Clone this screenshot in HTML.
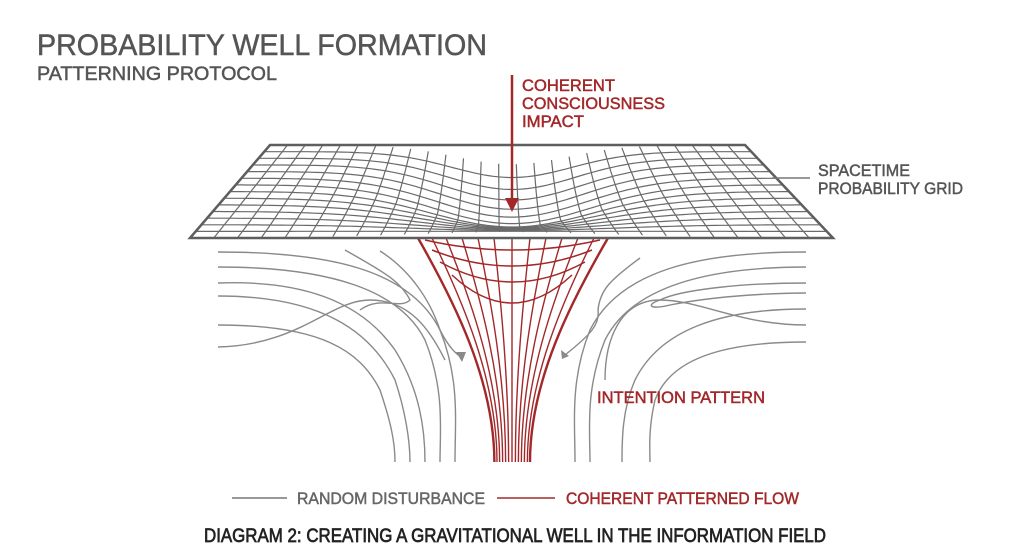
<!DOCTYPE html>
<html><head><meta charset="utf-8"><style>
html,body{margin:0;padding:0;background:#fff;width:1024px;height:558px;overflow:hidden}
svg{display:block}
text{font-family:"Liberation Sans Narrow","Liberation Sans",sans-serif}
</style></head><body>
<svg id="s" width="1024" height="558" viewBox="0 0 1024 558" xmlns="http://www.w3.org/2000/svg">
<rect width="1024" height="558" fill="#fff"/>
<g id="flow" fill="none" stroke="#8a8a8a" stroke-width="1.4"></g>
<g id="red" fill="none" stroke="#a3282a" stroke-width="1.5"></g>
<g id="grid" fill="none" stroke="#6a6a6a" stroke-width="1.2"></g>
<polygon points="270,145 745,145 833,238 190,238" fill="none" stroke="#5e5e5e" stroke-width="2.5"/>
<line x1="512" y1="75" x2="512" y2="200" stroke="#a3282a" stroke-width="2.5"/>
<polygon points="505,198 519,198 512,212" fill="#a3282a"/>
<g stroke-width="0.5">
<text x="37" y="55" font-size="30" fill="#555" stroke="#555" textLength="450" lengthAdjust="spacingAndGlyphs">PROBABILITY WELL FORMATION</text>
<text x="37" y="80" font-size="19" fill="#555" stroke="#555" textLength="240" lengthAdjust="spacingAndGlyphs">PATTERNING PROTOCOL</text>
<text font-size="17" fill="#a3282a" stroke="#a3282a"><tspan x="522" y="91" textLength="93" lengthAdjust="spacingAndGlyphs">COHERENT</tspan><tspan x="522" y="109" textLength="143" lengthAdjust="spacingAndGlyphs">CONSCIOUSNESS</tspan><tspan x="522" y="127" textLength="62" lengthAdjust="spacingAndGlyphs">IMPACT</tspan></text>
<text font-size="17" fill="#555" stroke="#555"><tspan x="818" y="176" textLength="92" lengthAdjust="spacingAndGlyphs">SPACETIME</tspan><tspan x="818" y="194" textLength="145" lengthAdjust="spacingAndGlyphs">PROBABILITY GRID</tspan></text>
<text x="597" y="403" font-size="17" fill="#a3282a" stroke="#a3282a" textLength="168" lengthAdjust="spacingAndGlyphs">INTENTION PATTERN</text>
<text x="297" y="504" font-size="17" fill="#666" stroke="#666" textLength="188" lengthAdjust="spacingAndGlyphs">RANDOM DISTURBANCE</text>
<text x="566" y="504" font-size="17" fill="#a3282a" stroke="#a3282a" textLength="233" lengthAdjust="spacingAndGlyphs">COHERENT PATTERNED FLOW</text>
<text x="204" y="542" font-size="19" fill="#222" stroke="#222" stroke-width="0.7" textLength="622" lengthAdjust="spacingAndGlyphs">DIAGRAM 2: CREATING A GRAVITATIONAL WELL IN THE INFORMATION FIELD</text>
</g>
<line x1="772" y1="178" x2="810" y2="178" stroke="#777" stroke-width="1.4"/>
<line x1="232" y1="498" x2="287" y2="498" stroke="#777" stroke-width="1.4"/>
<line x1="497" y1="498" x2="555" y2="498" stroke="#a3282a" stroke-width="1.4"/>
</svg>
<script>
(function(){
var NS="http://www.w3.org/2000/svg";
function P(g,d,w){var p=document.createElementNS(NS,"path");p.setAttribute("d",d);if(w)p.setAttribute("stroke-width",w);document.getElementById(g).appendChild(p);}
function pt(u,v){
 var y0=145+93*v;
 var xl=270-80*v, xr=745+88*v;
 var x=xl+(xr-xl)*u;
 var g=Math.exp(-Math.pow((x-512)/(80+70*v),2));
 var target=222+10*v;
 var s=Math.min(1,0.25+v*1.6);
 var y=y0+(target-y0)*g*s;
 if(y>238)y=238;
 return [x,y];
}
var R=14,C=27;
for(var i=1;i<R;i++){var v=i/R,d="";for(var k=0;k<=100;k++){var q=pt(k/100,v);d+=(k?"L":"M")+q[0].toFixed(1)+","+q[1].toFixed(1);}P("grid",d);}
for(var j=1;j<C;j++){var u=j/C,d="";for(var k=0;k<=40;k++){var q=pt(u,k/40);d+=(k?"L":"M")+q[0].toFixed(1)+","+q[1].toFixed(1);}P("grid",d);}
var tops=[418,432,446,462,478,494,512,530,546,562,578,594,608];
for(var i=0;i<tops.length;i++){var t=tops[i],f=(t-512)/96,b=512+f*18;
 P("red","M"+t+",238 C"+(512+f*60)+",300 "+b+",380 "+b+",462",(Math.abs(f)>0.9?2.4:1.4));}
[[425,240,600,10],[432,250,592,16],[440,262,585,20],[452,275,572,28]].forEach(function(a){var m=(a[0]+a[2])/2;P("red","M"+a[0]+","+a[1]+" Q"+m+","+(a[1]+a[3]*2)+" "+a[2]+","+a[1]);});
var L=[
"M218,252 C330,252 410,270 440,330 C460,380 455,420 455,462",
"M218,267 C330,267 400,290 425,340 C445,390 440,430 440,462",
"M218,283 C300,280 360,300 395,350 C420,390 425,430 425,462",
"M218,296 C320,296 370,330 395,380 C405,410 410,440 410,462",
"M218,325 C320,325 360,350 380,390 C390,420 395,440 395,462",
"M218,347 C300,345 330,300 370,300 C410,300 430,330 445,360",
"M345,250 C380,270 400,280 410,300 C400,310 380,295 360,310",
"M380,251 C410,270 430,300 440,330 C450,350 458,355 462,358"
];
L.forEach(function(d){P("flow",d);});
var Rt=[
"M806,252 C700,252 620,270 590,330 C570,380 575,420 575,462",
"M806,267 C700,267 630,290 605,340 C585,390 590,430 590,462",
"M806,283 C740,283 680,290 660,300 C645,305 650,310 670,305 C720,295 780,293 806,293",
"M806,309 C720,309 660,330 635,380 C622,410 622,440 622,462",
"M806,325 C740,325 700,300 660,300 C620,300 605,340 605,380",
"M806,342 C720,342 670,360 655,400 C648,430 650,450 650,462",
"M640,258 C610,280 600,290 598,310 C600,325 590,335 565,355"
];
Rt.forEach(function(d){P("flow",d);});
var s=document.getElementById("s");
function tri(p){var e=document.createElementNS(NS,"polygon");e.setAttribute("points",p);e.setAttribute("fill","#8a8a8a");s.appendChild(e);}
tri("456,352 466,352 462,362");tri("561,350 569,356 562,359");
})();
</script>
</body></html>
